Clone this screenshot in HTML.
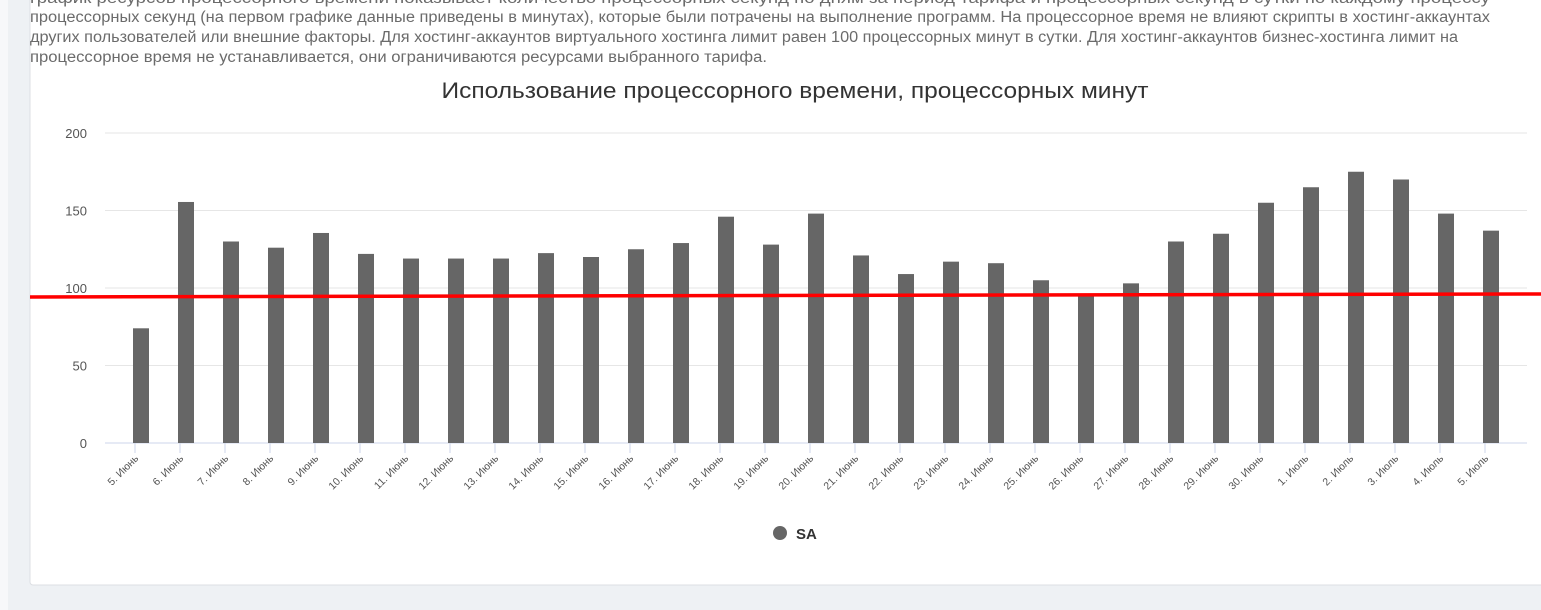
<!DOCTYPE html>
<html><head><meta charset="utf-8"><style>
html,body{margin:0;padding:0;background:#eef1f4;width:1541px;height:610px;overflow:hidden}
svg{display:block;font-family:"Liberation Sans","DejaVu Sans",sans-serif}
</style></head><body>
<svg id="chart" width="1541" height="610">
<rect x="0" y="0" width="8" height="610" fill="#f7f8fa"/>
<rect x="30" y="-5" width="1520" height="590" rx="3" fill="#fff" stroke="#dcdfe3"/>
<g fill="#6b6b6b" font-size="15.5">
<text x="30" y="3" textLength="1460" lengthAdjust="spacingAndGlyphs">график ресурсов процессорного времени показывает количество процессорных секунд по дням за период тарифа и процессорных секунд в сутки по каждому процессу</text>
<text x="30" y="22" textLength="1460" lengthAdjust="spacingAndGlyphs">процессорных секунд (на первом графике данные приведены в минутах), которые были потрачены на выполнение программ. На процессорное время не влияют скрипты в хостинг-аккаунтах</text>
<text x="30" y="42" textLength="1428" lengthAdjust="spacingAndGlyphs">других пользователей или внешние факторы. Для хостинг-аккаунтов виртуального хостинга лимит равен 100 процессорных минут в сутки. Для хостинг-аккаунтов бизнес-хостинга лимит на</text>
<text x="30" y="62" textLength="737" lengthAdjust="spacingAndGlyphs">процессорное время не устанавливается, они ограничиваются ресурсами выбранного тарифа.</text>
</g>
<text x="795" y="98" text-anchor="middle" font-size="22" fill="#333" textLength="707" lengthAdjust="spacingAndGlyphs">Использование процессорного времени, процессорных минут</text>
<g id="grid"></g><g id="bars"></g><g id="xlabels"></g>
<line x1="30" y1="297" x2="1541" y2="294" stroke="#ff0000" stroke-width="3.5"/>
<circle cx="780" cy="533" r="7" fill="#666"/>
<text x="796" y="539" font-size="15" font-weight="bold" fill="#333">SA</text>
</svg>
<script>
const categories=["5. Июнь","6. Июнь","7. Июнь","8. Июнь","9. Июнь","10. Июнь","11. Июнь","12. Июнь","13. Июнь","14. Июнь","15. Июнь","16. Июнь","17. Июнь","18. Июнь","19. Июнь","20. Июнь","21. Июнь","22. Июнь","23. Июнь","24. Июнь","25. Июнь","26. Июнь","27. Июнь","28. Июнь","29. Июнь","30. Июнь","1. Июль","2. Июль","3. Июль","4. Июль","5. Июль"];
const values=[74,155.5,130,126,135.5,122,119,119,119,122.5,120,125,129,146,128,148,121,109,117,116,105,95.5,103,130,135,155,165,175,170,148,137];
const yTicks=[0,50,100,150,200];
const NS="http://www.w3.org/2000/svg";
const y0=443,yTop=133,yMax=200,plotL=105,plotR=1527;
function yScale(v){return y0-(v/yMax)*(y0-yTop);}
function xScale(i){return 141+i*45;}
function mk(t,a,p){const e=document.createElementNS(NS,t);for(const k in a)e.setAttribute(k,a[k]);p.appendChild(e);return e;}
const grid=document.getElementById('grid'),bars=document.getElementById('bars'),xl=document.getElementById('xlabels');
yTicks.forEach(v=>{
 const l=mk('line',{x1:plotL,x2:plotR,y1:yScale(v),y2:yScale(v),stroke:v===0?'#ccd6eb':'#e6e6e6','stroke-width':1},grid);
 
 
 const t=mk('text',{x:87,y:yScale(v)+5,'text-anchor':'end','font-size':13,fill:'#555'},grid);
 t.textContent=v;
 
 
});
categories.forEach((c,i)=>{
 const x=xScale(i);
 const r=mk('rect',{x:x-8,y:yScale(values[i]),width:16,height:y0-yScale(values[i]),fill:'#666'},bars);
 
 
 const tk=mk('line',{x1:x-6,x2:x-6,y1:y0,y2:y0+10,stroke:'#ccd6eb'},xl);
 
 
 const t=mk('text',{x:x-2,y:y0+16,'text-anchor':'end','font-size':10.5,fill:'#555',transform:'rotate(-45 '+(x-2)+' '+(y0+16)+')'},xl);
 t.textContent=c;
 
 
});
</script>
</body></html>
